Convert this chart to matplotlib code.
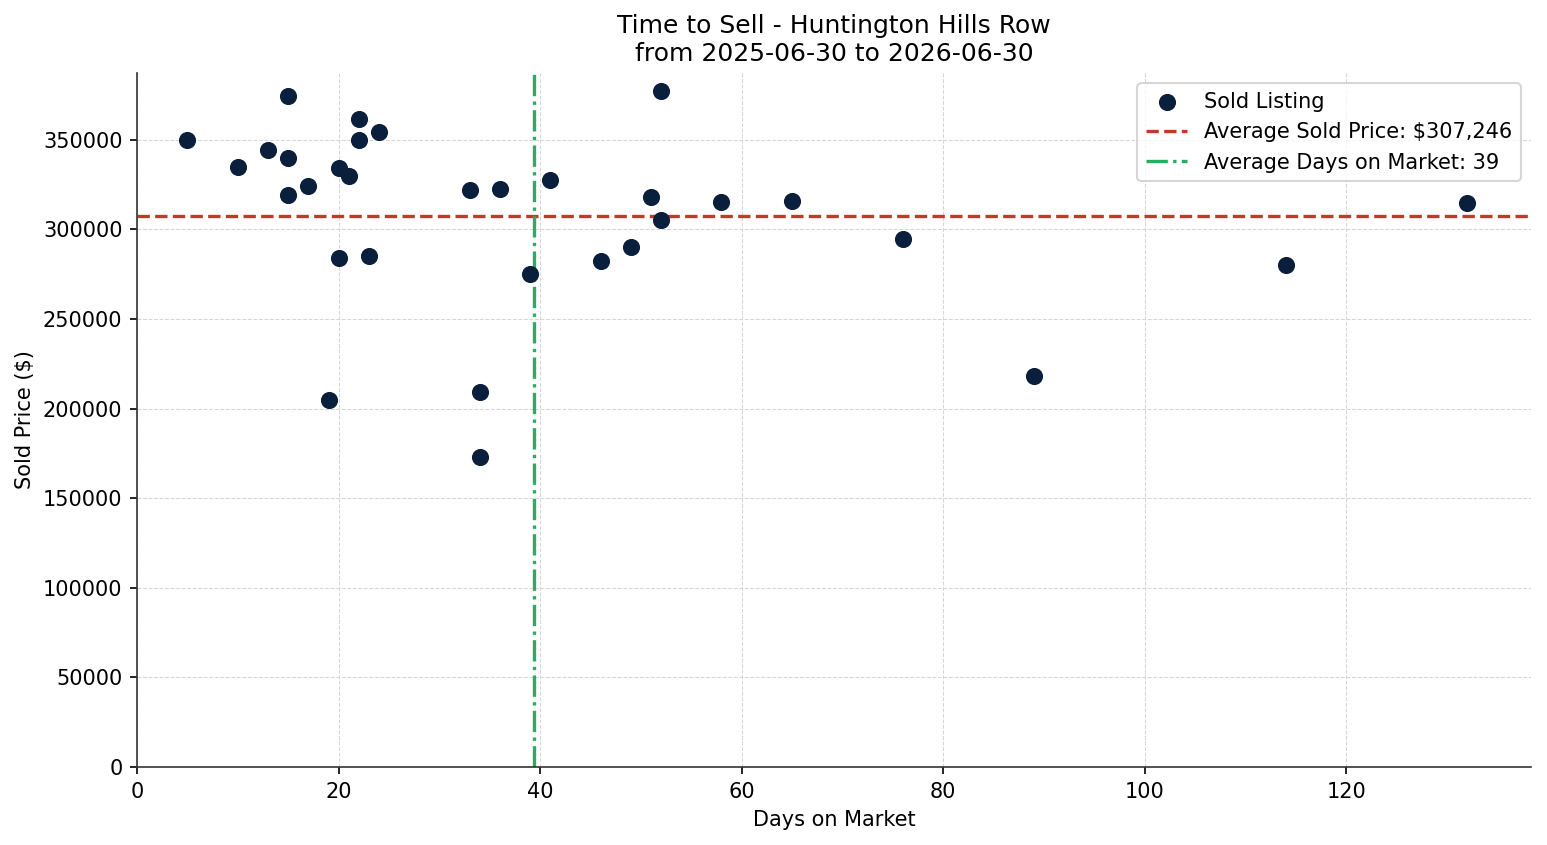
import numpy as np
import matplotlib
matplotlib.use("Agg")
import matplotlib.pyplot as plt

# days on market / sold price
days = [5, 10, 13, 15, 15, 15, 17, 20, 20, 19, 21, 22, 22, 23, 24, 33,
        34, 34, 36, 39, 41, 46, 49, 51, 52, 52, 58, 65, 76, 89, 114, 132]
prices = [350000, 335000, 344500, 374500, 339500, 319000, 324300, 334300,
          284000, 204600, 329900, 361800, 350000, 285100, 354500, 322000,
          209100, 172800, 322600, 275100, 327600, 282400, 290200, 318100,
          376972, 305300, 315300, 315900, 294600, 218000, 280100, 314800]

title = "Time to Sell - Huntington Hills Row\nfrom 2025-06-30 to 2026-06-30"

avg_price = np.mean(prices)
avg_days = np.mean(days)

fig = plt.figure(figsize=(1547 / 150, 845 / 150), dpi=150)
ax = fig.add_subplot(111)
fig.subplots_adjust(left=0.0886, right=0.9897, bottom=0.0923, top=0.9136)

ax.scatter(days, prices, s=52, color="#0a1f3c", label="Sold Listing", zorder=3)
ax.axhline(avg_price, color="#c0392b", linestyle="--", linewidth=1.6,
           label="Average Sold Price: ${:,.0f}".format(avg_price))
ax.axvline(avg_days, color="#27ae60", linestyle="-.", linewidth=1.6,
           label="Average Days on Market: {:.0f}".format(avg_days))

ax.set_xlim(left=0)
ax.set_ylim(bottom=0)
ax.set_title(title, fontsize=12)
ax.set_xlabel("Days on Market")
ax.set_ylabel("Sold Price ($)")
ax.grid(True, linestyle="--", linewidth=0.5, color="#cccccc", alpha=0.8)
ax.spines["top"].set_visible(False)
ax.spines["right"].set_visible(False)
ax.spines["left"].set_color("#333333")
ax.spines["bottom"].set_color("#333333")
ax.legend(loc="upper right")

fig.savefig("out.png", dpi=150)
